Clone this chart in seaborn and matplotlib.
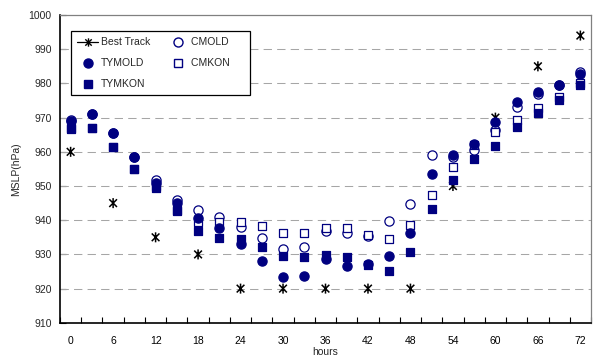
import numpy as np
import pandas as pd
import matplotlib
matplotlib.use("Agg")
import matplotlib.pyplot as plt
from matplotlib.path import Path
from matplotlib.lines import Line2D
import seaborn as sns

# Forecast hours (every 3 h) and observed best-track hours (every 6 h)
hours = [0, 3, 6, 9, 12, 15, 18, 21, 24, 27, 30, 33, 36, 39, 42, 45, 48,
         51, 54, 57, 60, 63, 66, 69, 72]
best_hours = [0, 6, 12, 18, 24, 30, 36, 42, 48, 54, 60, 66, 72]

best_track = [960, 945, 935, 930, 920, 920, 920, 920, 920, 950, 970, 985, 994]

tymold = [969.1, 971.0, 965.4, 958.6, 951.0, 944.9, 940.6, 937.8, 933.1, 928.0,
          923.4, 923.8, 928.6, 926.7, 927.2, 929.4, 936.3, 953.5, 959.0, 962.2,
          968.6, 974.5, 977.6, 979.5, 982.8]
tymkon = [966.8, 966.9, 961.5, 955.0, 949.5, 942.6, 936.8, 934.7, 934.6, 932.1,
          929.5, 929.2, 929.9, 929.1, 926.9, 925.2, 930.8, 943.4, 951.7, 957.8,
          961.6, 967.2, 971.4, 975.3, 979.5]
cmold = [969.2, 971.0, 965.5, 958.6, 951.7, 945.8, 942.9, 941.0, 937.9, 934.7,
         931.5, 932.1, 936.9, 936.4, 935.5, 939.9, 944.7, 959.1, 958.5, 960.6,
         966.4, 973.2, 976.8, 979.5, 983.4]
cmkon = [967.0, 967.0, 961.5, 955.0, 950.0, 943.0, 939.6, 939.5, 939.6, 938.3,
         936.3, 936.4, 937.8, 937.6, 935.6, 934.6, 938.5, 947.3, 955.5, 962.0,
         965.7, 969.3, 972.9, 976.1, 980.0]

y_ticks = list(range(910, 1001, 10))
x_labels = list(range(0, 73, 6))
series_labels = ["Best Track", "TYMOLD", "TYMKON", "CMOLD", "CMKON"]

navy = "#000080"

sns.set_theme(style="white")
plt.rcParams["font.family"] = ["Liberation Sans", "DejaVu Sans"]
plt.rcParams["font.size"] = 7.5

fig = plt.figure(figsize=(5.96, 3.58), dpi=100)
ax = fig.add_axes([0.1007, 0.0983, 0.8909, 0.8597])

# Asterisk marker: an "x" crossed by a vertical stroke
asterisk = Path(
    [(-1, -1), (1, 1), (-1, 1), (1, -1), (0, -1.3), (0, 1.3)],
    [Path.MOVETO, Path.LINETO, Path.MOVETO, Path.LINETO, Path.MOVETO, Path.LINETO],
)

df_best = pd.DataFrame({"hour": best_hours, "mslp": best_track})
sns.scatterplot(data=df_best, x="hour", y="mslp", ax=ax, marker=asterisk,
                s=52, facecolor="none", edgecolor="black", linewidth=1.1,
                zorder=3, legend=False)

df = pd.DataFrame({"hour": hours, "TYMOLD": tymold, "TYMKON": tymkon,
                   "CMOLD": cmold, "CMKON": cmkon})

# open markers first, filled markers on top
sns.scatterplot(data=df, x="hour", y="CMOLD", ax=ax, marker="o", s=44,
                color="white", edgecolor=navy, linewidth=0.9, zorder=4, legend=False)
sns.scatterplot(data=df, x="hour", y="CMKON", ax=ax, marker="s", s=40,
                color="white", edgecolor=navy, linewidth=0.9, zorder=4, legend=False)
sns.scatterplot(data=df, x="hour", y="TYMOLD", ax=ax, marker="o", s=44,
                color=navy, edgecolor=navy, linewidth=0.9, zorder=5, legend=False)
sns.scatterplot(data=df, x="hour", y="TYMKON", ax=ax, marker="s", s=40,
                color=navy, edgecolor=navy, linewidth=0.9, zorder=5, legend=False)

ax.set_xlim(-1.5, 73.5)
ax.set_ylim(910, 1000)
ax.set_yticks(y_ticks)
ax.set_xticks(x_labels)
ax.set_xticks(np.arange(-1.5, 73.6, 3), minor=True)

ax.tick_params(axis="x", which="major", length=0, pad=9.5, labelsize=7.5, colors="black")
ax.tick_params(axis="x", which="minor", direction="in", length=4, width=0.8,
               color="black", bottom=True)
ax.tick_params(axis="y", which="major", direction="in", length=4, width=0.8,
               color="black", left=True, labelsize=7.5, pad=6)

for y in y_ticks[1:-1]:
    ax.axhline(y, color="#a6a6a6", linewidth=0.75, linestyle=(0, (8, 5)), zorder=1)

for side in ("top", "right"):
    ax.spines[side].set_color("#808080")
    ax.spines[side].set_linewidth(0.9)
for side in ("left", "bottom"):
    ax.spines[side].set_color("black")
    ax.spines[side].set_linewidth(1.2)

ax.set_xlabel("hours", fontsize=7.5, labelpad=1)
ax.set_ylabel("MSLP(hPa)", fontsize=7.5, labelpad=5)
ax.grid(False)

handles = [
    Line2D([], [], color="black", linewidth=0.9, marker=asterisk, markersize=6,
           markerfacecolor="none", markeredgecolor="black"),
    Line2D([], [], linestyle="none", marker="o", markersize=6.5,
           markerfacecolor=navy, markeredgecolor=navy),
    Line2D([], [], linestyle="none", marker="s", markersize=6,
           markerfacecolor=navy, markeredgecolor=navy),
    Line2D([], [], linestyle="none", marker="o", markersize=6.5,
           markerfacecolor="white", markeredgecolor=navy),
    Line2D([], [], linestyle="none", marker="s", markersize=6,
           markerfacecolor="white", markeredgecolor=navy),
]
# trailing padding on the right-hand column entries widens the frame
legend_text = series_labels[:3] + [s + "     " for s in series_labels[3:]]
leg = ax.legend(handles, legend_text, ncol=2, loc="upper left",
                bbox_to_anchor=(0.0207, 0.948), borderaxespad=0,
                fancybox=False, framealpha=1, edgecolor="black",
                fontsize=7.5, labelspacing=1.05, handlelength=2.0,
                handletextpad=0.3, columnspacing=1.6, borderpad=0.6)
leg.get_frame().set_linewidth(0.9)

fig.savefig("out.png", dpi=100)
